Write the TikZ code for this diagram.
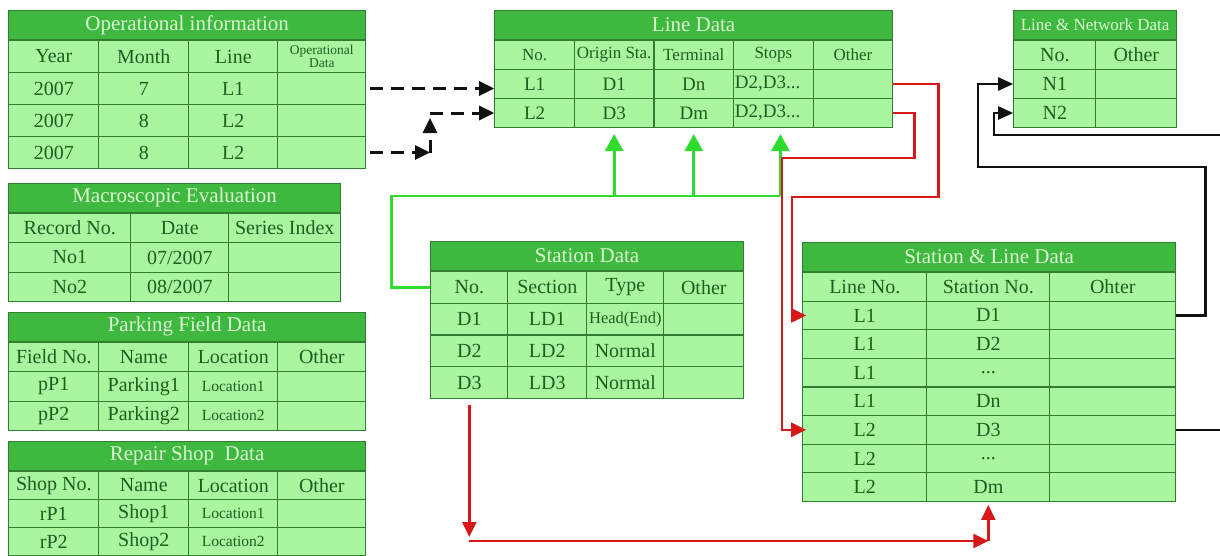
\documentclass[tikz,border=0pt]{standalone}
\usepackage{fontspec}
\setmainfont{Liberation Serif}
\usepackage{tikz}
\usetikzlibrary{matrix, positioning, arrows.meta}
\definecolor{DB_EDGE}{HTML}{2F7F2F}
\definecolor{DB_HEAD}{HTML}{3FB83F}
\definecolor{DB_CELL}{HTML}{AAF5A0}
\definecolor{DB_TEXT}{HTML}{1E5E1E}
\definecolor{DB_TITLE}{HTML}{D9F7D2}
\definecolor{LK_GREEN}{HTML}{2EDC2E}
\definecolor{LK_RED}{HTML}{D81818}
\definecolor{LK_BLACK}{HTML}{111111}
\newcommand{\fsz}[1]{\fontsize{#1}{#1}\selectfont}
\tikzset{
  tbtitle/.style={
    rectangle, anchor=north west, inner sep=0pt,
    minimum height=28.5pt, line width=1.2pt,
    draw=DB_EDGE, fill=DB_HEAD, text=DB_TITLE, font=\fsz{21}},
  tbl/.style={
    matrix of nodes, nodes in empty cells, anchor=north west,
    inner sep=0pt, row sep=-1.2pt, column sep=-1.2pt,
    nodes={rectangle, anchor=center, inner sep=0pt, line width=1.2pt,
      draw=DB_EDGE, fill=DB_CELL, text=DB_TEXT, font=\fsz{20}}},
  rowh/.style={nodes={minimum height=#1}},
  colw/.style 2 args={column #1/.style={nodes={minimum width=#2}}},
  lcell/.style={text width=77pt, align=left},
  dasharr/.style={-{Triangle[length=15pt,width=14pt]}, line width=3pt,
    dash pattern=on 13pt off 8pt, color=LK_BLACK},
  grnln/.style={line width=2.8pt, color=LK_GREEN},
  grnarr/.style={-{Triangle[length=17pt,width=18pt]}, line width=2.8pt, color=LK_GREEN},
  redarr/.style={-{Triangle[length=15pt,width=14pt]}, line width=2.4pt, color=LK_RED},
  blkarr/.style={-{Triangle[length=15pt,width=13pt]}, line width=2.4pt, color=LK_BLACK},
}
\begin{document}
\begin{tikzpicture}[x=1pt, y=-1pt]

  \useasboundingbox (0,0) rectangle (1220,555);
  \fill[white] (0,0) rectangle (1220,555);

  \node[tbtitle, minimum width=357pt] (opiT) at (8,10) {Operational information};
  \matrix (opi) [tbl, rowh=32pt, colw={1}{90pt}, colw={2}{90pt}, colw={3}{89pt}, colw={4}{88pt}]
    at (opiT.south west) {
    Year & Month & Line & |[font=\fsz{13.5}]| \parbox{80pt}{\centering Operational\par Data} \\
    2007 & 7 & L1 & \\
    2007 & 8 & L2 & \\
    2007 & 8 & L2 & \\
  };

  \node[tbtitle, minimum width=332pt] (mevT) at (8,183) {Macroscopic Evaluation};
  \matrix (mev) [tbl, rowh=29.3pt, colw={1}{122pt}, colw={2}{98pt}, colw={3}{112pt}]
    at (mevT.south west) {
    Record No. & Date & Series Index \\
    No1 & 07/2007 & \\
    No2 & 08/2007 & \\
  };

  \node[tbtitle, minimum width=357pt] (pfdT) at (8,312) {Parking Field Data};
  \matrix (pfd) [tbl, rowh=29.3pt, colw={1}{90pt}, colw={2}{90pt}, colw={3}{89pt}, colw={4}{88pt}]
    at (pfdT.south west) {
    Field No. & Name & Location & Other \\
    pP1 & Parking1 & |[font=\fsz{15.5}]| Location1 & \\
    pP2 & Parking2 & |[font=\fsz{15.5}]| Location2 & \\
  };

  \node[tbtitle, minimum width=357pt] (rsdT) at (8,441) {Repair Shop\ \ Data};
  \matrix (rsd) [tbl, rowh=28pt, colw={1}{90pt}, colw={2}{90pt}, colw={3}{89pt}, colw={4}{88pt}]
    at (rsdT.south west) {
    Shop No. & Name & Location & Other \\
    rP1 & Shop1 & |[font=\fsz{15.5}]| Location1 & \\
    rP2 & Shop2 & |[font=\fsz{15.5}]| Location2 & \\
  };

  \node[tbtitle, minimum width=398pt] (lndT) at (494,10) {Line Data};
  \matrix (lnd) [tbl, rowh=29pt, nodes={minimum width=79.6pt, font=\fsz{19}},
    row 1/.style={nodes={font=\fsz{17}}}]
    at (lndT.south west) {
    No. & Origin Sta. & Terminal & Stops & Other \\
    L1 & D1 & Dn & |[lcell]| D2,D3... & \\
    L2 & D3 & Dm & |[lcell]| D2,D3... & \\
  };

  \node[tbtitle, minimum width=163pt, font=\fsz{17}] (lnwT) at (1013,10) {Line \& Network Data};
  \matrix (lnw) [tbl, rowh=29pt, colw={1}{82pt}, colw={2}{81pt}]
    at (lnwT.south west) {
    No. & Other \\
    N1 & \\
    N2 & \\
  };

  \node[tbtitle, minimum width=313pt] (stdT) at (430,241) {Station Data};
  \matrix (std) [tbl, rowh=31.75pt, colw={1}{77pt}, colw={2}{79pt}, colw={3}{77pt}, colw={4}{80pt}]
    at (stdT.south west) {
    No. & Section & Type & Other \\
    D1 & LD1 & |[font=\fsz{16.5}]| Head(End) & \\
    D2 & LD2 & Normal & \\
    D3 & LD3 & Normal & \\
  };

  \node[tbtitle, minimum width=373pt] (sldT) at (802,242) {Station \& Line Data};
  \matrix (sld) [tbl, rowh=28.6pt, colw={1}{124pt}, colw={2}{123pt}, colw={3}{126pt}]
    at (sldT.south west) {
    Line No. & Station No. & Ohter \\
    L1 & D1 & \\
    L1 & D2 & \\
    L1 & ... & \\
    L1 & Dn & \\
    L2 & D3 & \\
    L2 & ... & \\
    L2 & Dm & \\
  };

  \coordinate (dbx) at (430,0);
  \coordinate (dbtop) at (dbx |- lnd-3-1.west);
  \coordinate (gbus) at (0,196);
  \coordinate (rbase) at (0,541);
  \coordinate (rb1) at (std-4-1.south |- rbase);
  \coordinate (rb2) at (sld-8-2.south |- rbase);

  \draw[dasharr, shorten <=4pt] (opi-2-4.east) -- (opi-2-4.east -| lnd-2-1.west);
  \draw[dasharr, shorten <=4pt] (opi-4-4.east) -- (dbx |- opi-4-4.east);
  \draw[dasharr] (dbx |- opi-4-4.east) -- ([yshift=-5pt]dbtop);
  \draw[dasharr] (dbtop) -- (lnd-3-1.west);

  \draw[grnln] (std-1-1.west) -- ++(-39,0) |- ([xshift=7pt]lnd-3-4.south |- gbus);
  \foreach \c/\dx in {2/0, 3/0, 4/7}
    \draw[grnarr, shorten >=6pt] ([xshift=\dx pt]lnd-3-\c.south |- gbus) -- ([xshift=\dx pt]lnd-3-\c.south);

  \draw[redarr, shorten >=-4pt] (lnd-2-5.east) -- ++(45,0) |- (792,197) |- (sld-2-1.west);
  \draw[redarr, shorten >=-4pt] (lnd-3-5.east) -- ++(21,0) |- (782,158) |- (sld-6-1.west);
  \draw[redarr, shorten <=6pt] (std-4-1.south) -- ([yshift=4pt]rb1);
  \draw[redarr] (rb1) -- (rb2);
  \draw[redarr, shorten >=3pt] (rb2) -- (sld-8-2.south);

  \draw[blkarr] (sld-2-3.east) -- ++(29,0) |- (978,167) |- (lnw-2-1.west);
  \draw[blkarr] (sld-6-3.east) -- ++(80,0) |- (994,135) |- (lnw-3-1.west);

\end{tikzpicture}
\end{document}
